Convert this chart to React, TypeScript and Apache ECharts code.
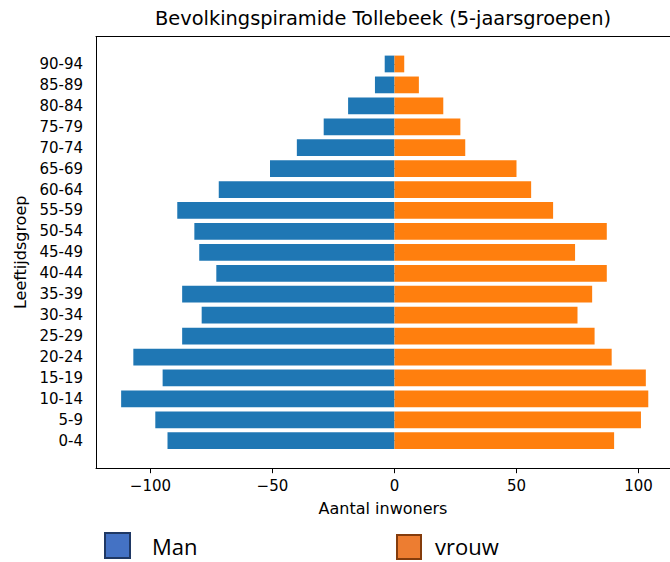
import React, { useEffect, useRef } from "react";
import * as echarts from "echarts";

const ageGroups = [
  "0-4", "5-9", "10-14", "15-19", "20-24", "25-29", "30-34", "35-39", "40-44",
  "45-49", "50-54", "55-59", "60-64", "65-69", "70-74", "75-79", "80-84", "85-89", "90-94",
];
const maleCounts = [93, 98, 112, 95, 107, 87, 79, 87, 73, 80, 82, 89, 72, 51, 40, 29, 19, 8, 4];
const femaleCounts = [90, 101, 104, 103, 89, 82, 75, 81, 87, 74, 87, 65, 56, 50, 29, 27, 20, 10, 4];
const xTicks = [-100, -50, 0, 50, 100];

const FONT = "DejaVu Sans";

export default function App() {
  const ref = useRef<HTMLDivElement>(null);
  useEffect(() => {
    if (!ref.current) return;
    const chart = echarts.init(ref.current, null, { renderer: "svg" });
    const fmt = (v: number) => (v < 0 ? "\u2212" + Math.abs(v) : String(v));
    chart.setOption({
      animation: false,
      backgroundColor: "#ffffff",
      grid: { left: 96, right: 0, top: 53.5, bottom: 110.8, containLabel: false },
      xAxis: [
        {
          type: "value",
          position: "bottom",
          min: -122.3,
          max: 112.9,
          offset: 17,
          splitLine: { show: false },
          axisLine: { show: true, lineStyle: { color: "#000", width: 1 } },
          axisTick: { show: true, customValues: xTicks, length: 5, lineStyle: { color: "#000" } },
          axisLabel: {
            customValues: xTicks,
            formatter: fmt,
            fontFamily: FONT,
            fontSize: 15,
            color: "#000",
            margin: 10,
          },
          name: "Aantal inwoners",
          nameLocation: "middle",
          nameGap: 32,
          nameTextStyle: { fontFamily: FONT, fontSize: 16, color: "#000" },
        },
        {
          type: "value",
          position: "top",
          min: -122.3,
          max: 112.9,
          offset: 17.5,
          splitLine: { show: false },
          axisLine: { show: true, lineStyle: { color: "#000", width: 1 } },
          axisTick: { show: false },
          axisLabel: { show: false },
        },
      ],
      yAxis: {
        type: "category",
        data: ageGroups,
        axisLine: { show: false },
        axisTick: { show: true, alignWithLabel: true, length: 5, lineStyle: { color: "#000" } },
        axisLabel: { fontFamily: FONT, fontSize: 15, color: "#000", margin: 13 },
        name: "Leeftijdsgroep",
        nameLocation: "middle",
        nameRotate: 90,
        nameGap: 66,
        nameTextStyle: { fontFamily: FONT, fontSize: 16, color: "#000" },
      },
      graphic: [
        {
          type: "text",
          x: 383,
          y: 18.5,
          style: {
            text: "Bevolkingspiramide Tollebeek (5-jaarsgroepen)",
            fontFamily: FONT,
            fontSize: 19.4,
            fill: "#000",
            textAlign: "center",
            textVerticalAlign: "middle",
          },
        },
        {
          type: "line",
          shape: { x1: 96.5, y1: 36, x2: 96.5, y2: 468.5 },
          style: { stroke: "#000", lineWidth: 1 },
          z: 10,
        },
        {
          type: "rect",
          shape: { x: 105, y: 533, width: 25, height: 25 },
          style: { fill: "#4472C4", stroke: "#1F3864", lineWidth: 2 },
        },
        {
          type: "text",
          x: 152,
          y: 546,
          style: {
            text: "Man",
            fontFamily: "Open Sans",
            fontSize: 22,
            lineHeight: 20,
            fill: "#000",
            textVerticalAlign: "middle",
          },
        },
        {
          type: "rect",
          shape: { x: 397, y: 535, width: 24, height: 24 },
          style: { fill: "#ED7D31", stroke: "#843C0C", lineWidth: 2 },
        },
        {
          type: "text",
          x: 435,
          y: 546,
          style: {
            text: "vrouw",
            fontFamily: "Open Sans",
            fontSize: 22,
            lineHeight: 20,
            fill: "#000",
            textVerticalAlign: "middle",
          },
        },
      ],
      series: [
        {
          name: "Man",
          type: "bar",
          xAxisIndex: 0,
          data: maleCounts.map((v) => -v),
          barWidth: "80%",
          barGap: "-100%",
          itemStyle: { color: "#1f77b4" },
        },
        {
          name: "vrouw",
          type: "bar",
          xAxisIndex: 0,
          data: femaleCounts,
          barWidth: "80%",
          barGap: "-100%",
          itemStyle: { color: "#ff7f0e" },
        },
      ],
    });
    return () => chart.dispose();
  }, []);
  return (
    <div
      ref={ref}
      style={{ position: "absolute", left: 0, top: 0, width: 670, height: 562 }}
    />
  );
}
